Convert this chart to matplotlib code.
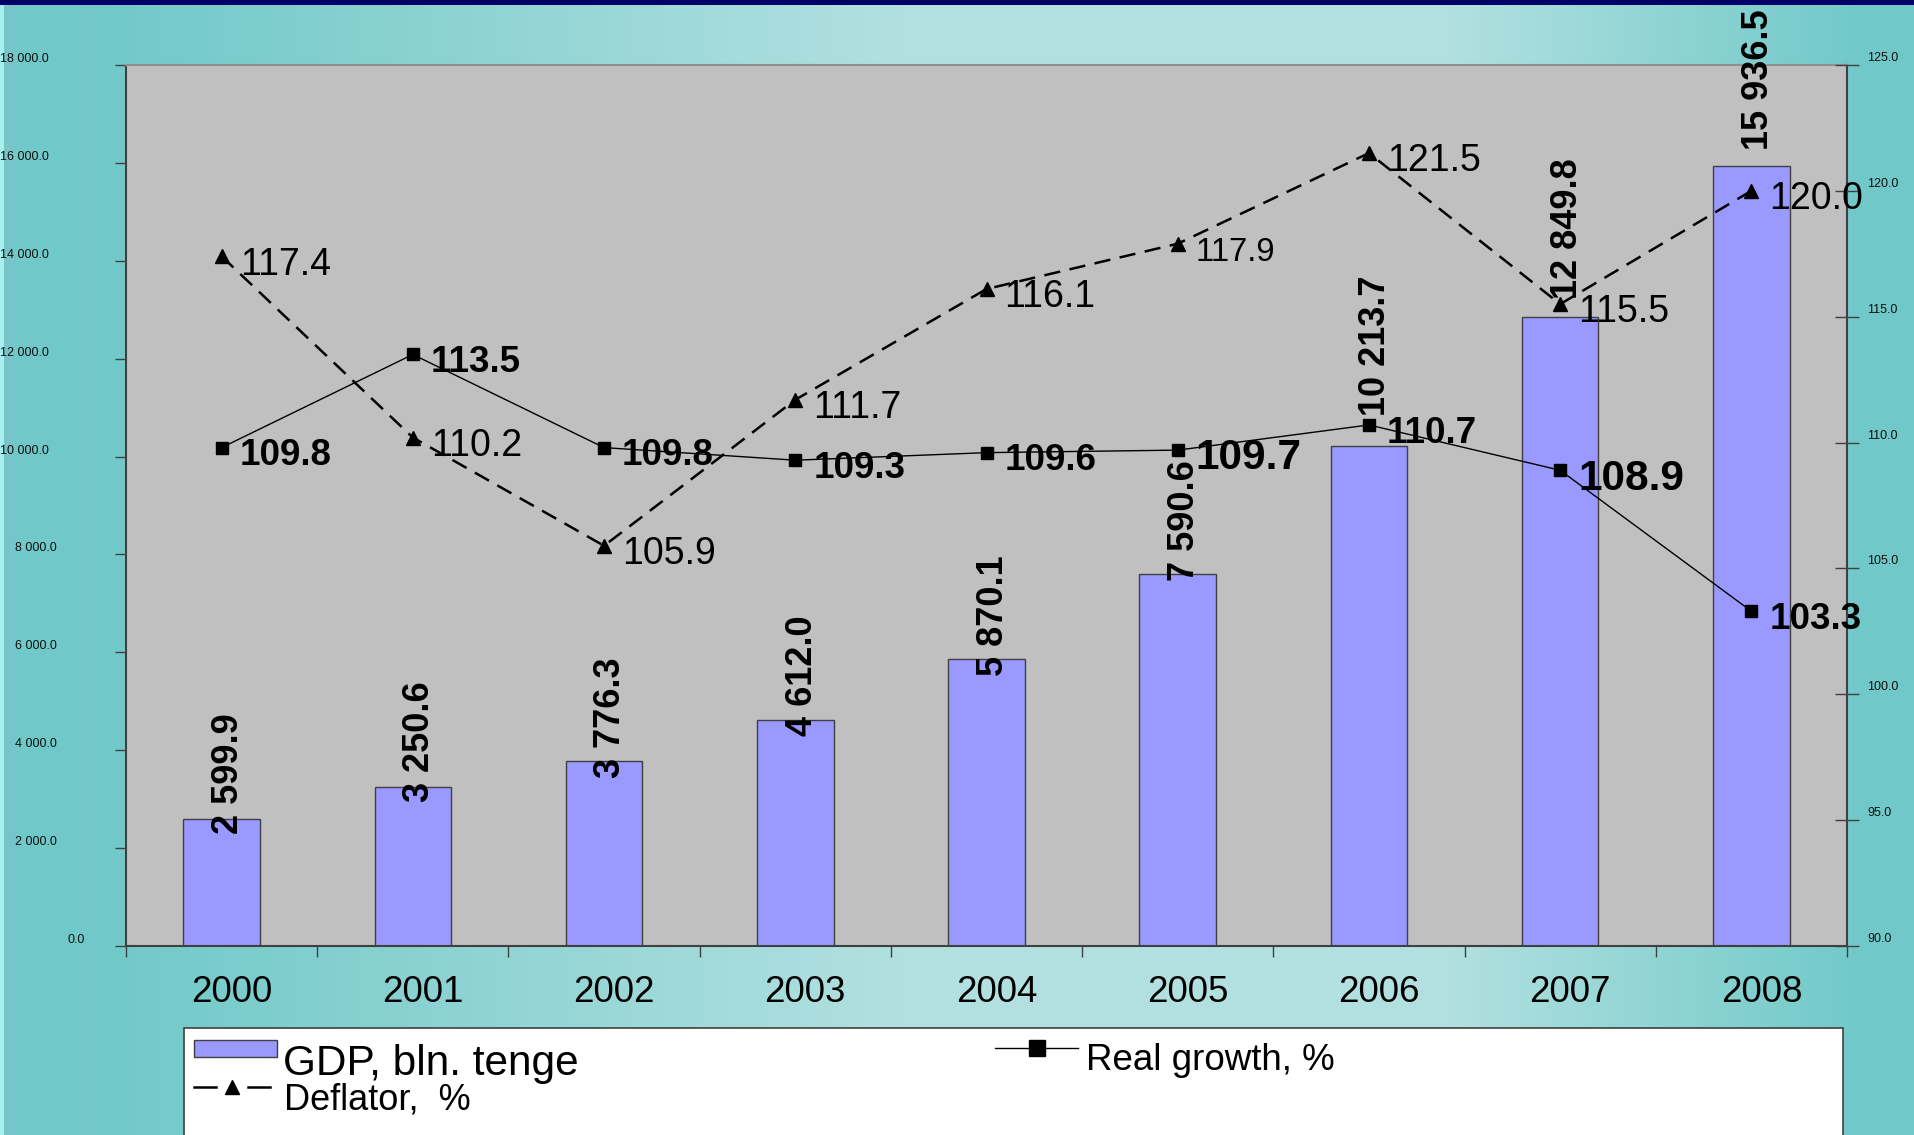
import numpy as np
import matplotlib
matplotlib.use('Agg')
import matplotlib.pyplot as plt
from matplotlib.lines import Line2D
from matplotlib.patches import Rectangle
from matplotlib.transforms import ScaledTranslation, blended_transform_factory

# ---------------- data ----------------
years = ['2000', '2001', '2002', '2003', '2004', '2005', '2006', '2007', '2008']
gdp = [2599.9, 3250.6, 3776.3, 4612.0, 5870.1, 7590.6, 10213.7, 12849.8, 15936.5]
real_growth = [109.8, 113.5, 109.8, 109.3, 109.6, 109.7, 110.7, 108.9, 103.3]
deflator = [117.4, 110.2, 105.9, 111.7, 116.1, 117.9, 121.5, 115.5, 120.0]
left_ticks = [0, 2000, 4000, 6000, 8000, 10000, 12000, 14000, 16000, 18000]
right_ticks = [90, 95, 100, 105, 110, 115, 120, 125]
legend_gdp = 'GDP, bln. tenge'
legend_deflator = 'Deflator,  %'
legend_real = 'Real growth, %'

# ---------------- layout / style ----------------
W, H = 1915, 1135
plt.rcParams['font.family'] = ['Liberation Sans', 'DejaVu Sans']

def fx(px):
    return px / W

def fy(py):
    return 1 - py / H

fig = plt.figure(figsize=(W / 100, H / 100), dpi=100)

# background gradient
bg = fig.add_axes([0, 0, 1, 1], zorder=-10)
dark = np.array([112, 200, 200]) / 255
light = np.array([178, 224, 224]) / 255
xs = np.arange(W)
t = np.interp(xs, [0, 130, 900, 1450, 1870, 1915], [0.0, 0.05, 1.0, 1.0, 0.0, 0.0])
row = dark[None, :] + t[:, None] * (light - dark)[None, :]
img = np.repeat(row[None, :, :], H, axis=0)
img[:, 0:4, :] = np.array([168, 240, 240]) / 255
img[:, 4:14, :] = np.array([120, 196, 200]) / 255
img[0:5, :, :] = np.array([0, 0, 102]) / 255
bg.imshow(img, aspect='auto', extent=[0, W, H, 0], interpolation='nearest')
bg.set_axis_off()

# main axes
L, R, T, B = 126, 1847, 65, 946
ax = fig.add_axes([fx(L), fy(B), fx(R - L), (B - T) / H])
ax.set_facecolor('#C0C0C0')
xpos = np.arange(len(years))
ax.bar(xpos, gdp, width=0.4, color='#9999FF', edgecolor='#404040', linewidth=1.0, zorder=2)
ax.set_xlim(-0.5, len(years) - 0.5)
ax.set_ylim(0, 18000)
ax.set_yticks(left_ticks)
ax.set_yticklabels([])
ax.tick_params(axis='y', direction='out', length=8, width=1, color='#404040')
ax.set_xticks(np.arange(-0.5, len(years), 1.0))
ax.set_xticklabels([])
ax.tick_params(axis='x', which='major', direction='out', length=8, width=1, color='#404040')
ax.set_xticks(xpos, minor=True)
ax.set_xticklabels(years, minor=True, fontsize=26.5)
ax.tick_params(axis='x', which='minor', length=0, pad=21)
for lbl in ax.get_xticklabels(minor=True):
    lbl.set_transform(lbl.get_transform() + ScaledTranslation(10 / 100, 0, fig.dpi_scale_trans))
for side in ['left', 'bottom', 'right']:
    ax.spines[side].set_color('#404040')
    ax.spines[side].set_linewidth(1.5)
ax.spines['top'].set_color('#909090')
ax.spines['top'].set_linewidth(1.5)

# left tick labels (manual placement, small font)
tr_left = blended_transform_factory(fig.transFigure, ax.transData)
for v in left_ticks:
    s = f'{v:,.1f}'.replace(',', ' ')
    right_edge = 49 if v >= 10000 else (57 if v >= 1000 else 85)
    ax.text(fx(right_edge), v, s, transform=tr_left + ScaledTranslation(0, 6 / 100, fig.dpi_scale_trans),
            ha='right', va='center', fontsize=9, color='#101010', clip_on=False)

# GDP value labels
gdp_label_shift_px = [-15, -15, -17, -16, -17, -7, 30, 18, 16]
for xi, v, sh in zip(xpos, gdp, gdp_label_shift_px):
    s = f'{v:,.1f}'.replace(',', ' ')
    ax.annotate(s, (xi, v), xytext=(5, sh * 0.72), textcoords='offset points',
                rotation=90, ha='center', va='bottom', fontsize=26, fontweight='bold',
                color='black', zorder=6, annotation_clip=False)

# secondary axis with lines
ax2 = ax.twinx()
ax2.set_ylim(90, 125)
ax2.set_yticks(right_ticks)
ax2.set_yticklabels([])
ax2.tick_params(axis='y', direction='inout', length=17, width=1, color='#404040')
for side in ['left', 'bottom', 'right', 'top']:
    ax2.spines[side].set_visible(False)

ax2.plot(xpos, real_growth, color='black', lw=1.0, marker='s', ms=9, zorder=4)
ax2.plot(xpos, deflator, color='black', lw=1.8, ls=(0, (6.5, 3.8)), marker='^', ms=10, zorder=4)

tr_right = blended_transform_factory(fig.transFigure, ax2.transData)
for v in right_ticks:
    ax2.text(fx(1867), v, f'{v:.1f}', transform=tr_right + ScaledTranslation(0, 7 / 100, fig.dpi_scale_trans),
             ha='left', va='center', fontsize=9, color='#101010', clip_on=False)

deflator_fs = [27, 27, 27, 27, 27, 23.5, 27, 27, 27]
real_fs = [26.5, 26.5, 26.5, 26.5, 26.5, 30.5, 26.5, 30.5, 26.5]
for xi, v, fs in zip(xpos, deflator, deflator_fs):
    ax2.annotate(f'{v:.1f}', (xi, v), xytext=(13, -6), textcoords='offset points',
                 ha='left', va='center', fontsize=fs, color='black', zorder=7, annotation_clip=False)
for xi, v, fs in zip(xpos, real_growth, real_fs):
    ax2.annotate(f'{v:.1f}', (xi, v), xytext=(13, -6), textcoords='offset points',
                 ha='left', va='center', fontsize=fs, fontweight='bold', color='black', zorder=7,
                 annotation_clip=False)

# legend box (drawn by hand to match layout)
fig.add_artist(Rectangle((fx(184), fy(1145)), fx(1843 - 184), (1145 - 1028) / H,
                         transform=fig.transFigure, facecolor='white', edgecolor='#404040', lw=1.2, zorder=20))
fig.add_artist(Rectangle((fx(194), fy(1057)), fx(277 - 194), (1057 - 1040) / H,
                         transform=fig.transFigure, facecolor='#9999FF', edgecolor='#404040', lw=1.0, zorder=21))
fig.text(fx(283), fy(1075), legend_gdp, fontsize=30.5, ha='left', va='baseline', zorder=21)
fig.add_artist(Line2D([fx(194), fx(216)], [fy(1087), fy(1087)], transform=fig.transFigure,
                      color='black', lw=1.8, zorder=21))
fig.add_artist(Line2D([fx(248), fx(270)], [fy(1087), fy(1087)], transform=fig.transFigure,
                      color='black', lw=1.8, zorder=21))
fig.add_artist(Line2D([fx(232)], [fy(1087)], transform=fig.transFigure, color='black',
                      marker='^', ms=10, lw=0, zorder=21))
fig.text(fx(284), fy(1110), legend_deflator, fontsize=26, ha='left', va='baseline', zorder=21)
fig.add_artist(Line2D([fx(995), fx(1078)], [fy(1048), fy(1048)], transform=fig.transFigure,
                      color='black', lw=1.0, zorder=21))
fig.add_artist(Line2D([fx(1037)], [fy(1048)], transform=fig.transFigure, color='black',
                      marker='s', ms=11, lw=0, zorder=21))
fig.text(fx(1086), fy(1070), legend_real, fontsize=26.5, ha='left', va='baseline', zorder=21)

fig.savefig('out.png', dpi=100)
